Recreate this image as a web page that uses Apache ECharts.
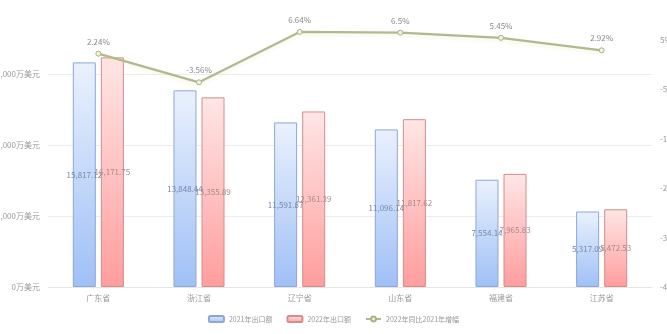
<!DOCTYPE html>
<html><head><meta charset="utf-8">
<script src="https://cdn.jsdelivr.net/npm/echarts@6/dist/echarts.min.js"></script>
<style>html,body{margin:0;padding:0;background:#fff}#c{width:667px;height:334px}</style>
</head><body><div id="c"></div>
<script>
const categories = ['广东省','浙江省','辽宁省','山东省','福建省','江苏省'];
const exports2021 = [15817.12, 13848.44, 11591.87, 11096.14, 7554.14, 5317.09];
const exports2022 = [16171.75, 13355.89, 12361.39, 11817.62, 7965.83, 5472.53];
const growth = [2.24, -3.56, 6.64, 6.5, 5.45, 2.92];
const seriesNames = ['2021年出口额','2022年出口额','2022年同比2021年增幅'];

const font = "'Noto Sans CJK SC', 'Noto Sans', sans-serif";
const fmt = v => v.toLocaleString('en-US',{minimumFractionDigits:2,maximumFractionDigits:2});
const chart = echarts.init(document.getElementById('c'));
chart.setOption({
  animation:false,
  textStyle:{fontFamily:font},
  grid:{left:48,right:15,top:3,bottom:47,containLabel:false,outerBoundsMode:'none'},
  legend:{bottom:6,itemWidth:15,itemHeight:6,itemGap:14,
    textStyle:{fontSize:7,color:'#999',fontFamily:font},
    data:[
      {name:seriesNames[0],icon:'roundRect'},
      {name:seriesNames[1],icon:'roundRect'},
      {name:seriesNames[2]}
    ]},
  xAxis:{type:'category',data:categories,
    axisLine:{lineStyle:{color:'#e6e6e6'}},axisTick:{show:false},
    axisLabel:{color:'#999',fontSize:8,margin:7}},
  yAxis:[
    {type:'value',min:0,max:20000,interval:5000,
     axisLine:{show:false},axisTick:{show:false},
     axisLabel:{color:'#999',fontSize:8,showMaxLabel:false,
       formatter:v=>v.toLocaleString('en-US')+'万美元'},
     splitLine:{lineStyle:{color:['#ececec','#ececec','#ececec','#ececec','rgba(0,0,0,0)']}}},
    {type:'value',min:-45,max:12.5,interval:5,position:'right',
     axisLine:{show:false},axisTick:{show:false},splitLine:{show:false},
     axisLabel:{color:'#999',fontSize:8,
       formatter:v=>(Math.abs(Math.round((v+45)*100)%1000)===0?v+'%':'')}}
  ],
  series:[
    {name:seriesNames[0],type:'bar',data:exports2021,barWidth:23,barGap:'22%',
     itemStyle:{borderColor:'#8ea6d6',borderWidth:1,
       color:new echarts.graphic.LinearGradient(0,0,0,1,[{offset:0,color:'#eaf1fd'},{offset:1,color:'#9fc0f6'}])},
     label:{show:true,position:'inside',fontSize:8,color:'#7488ad',formatter:p=>fmt(p.value)}},
    {name:seriesNames[1],type:'bar',data:exports2022,barWidth:23,
     itemStyle:{borderColor:'#d38d8d',borderWidth:1,
       color:new echarts.graphic.LinearGradient(0,0,0,1,[{offset:0,color:'#ffe6e6'},{offset:1,color:'#ff9d9d'}])},
     label:{show:true,position:'inside',fontSize:8,color:'#aa8888',formatter:p=>fmt(p.value)}},
    {name:seriesNames[2],type:'line',yAxisIndex:1,data:growth,
     symbol:'circle',symbolSize:5,
     lineStyle:{color:'#b0b98f',width:2.2,shadowColor:'rgba(220,220,150,0.3)',shadowBlur:4,shadowOffsetY:2},
     itemStyle:{color:'#f0f2e6',borderColor:'#a9b384',borderWidth:1},
     label:{show:true,position:'top',fontSize:8,color:'#888',formatter:p=>p.value+'%'}}
  ]
});
</script></body></html>
